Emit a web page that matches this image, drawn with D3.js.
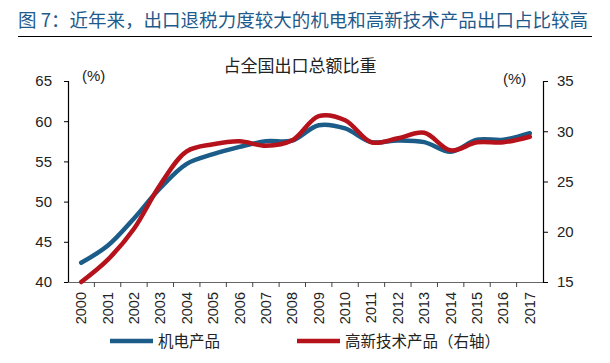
<!DOCTYPE html>
<html>
<head>
<meta charset="utf-8">
<script src="https://cdn.jsdelivr.net/npm/d3@7"></script>
<style>
  body { margin: 0; background: #fff; }
  svg { display: block; font-family: "Liberation Sans", Arial, sans-serif; }
  .cjk { font-family: "Noto Sans CJK SC", sans-serif; }
</style>
</head>
<body>
<svg id="chart" width="610" height="363"></svg>
<script>
// # DATA
// # ------------------------------
var years      = ["2000","2001","2002","2003","2004","2005","2006","2007","2008",
                  "2009","2010","2011","2012","2013","2014","2015","2016","2017"];
var jidian     = [42.4, 44.5, 47.9, 51.7, 54.7, 55.9, 56.8, 57.5, 57.6,
                  59.5, 59.1, 57.4, 57.6, 57.4, 56.2, 57.7, 57.7, 58.5];
var gaoxin     = [15.0, 17.2, 20.3, 24.7, 28.0, 28.7, 29.0, 28.55, 29.1,
                  31.5, 31.1, 28.9, 29.3, 29.85, 28.1, 28.9, 28.9, 29.45];
var leftTicks  = [40, 45, 50, 55, 60, 65];
var rightTicks = [15, 20, 25, 30, 35];
var seriesName = ["机电产品", "高新技术产品（右轴）"];

var blue = "#1b5c88",
    red  = "#b5121b";

// # SETUP
// # ------------------------------
var svg = d3.select("#chart");
var m = { left: 68, right: 543, top: 81, bottom: 282 };

var x  = d3.scaleBand().domain(years).range([m.left, m.right]);
var yL = d3.scaleLinear().domain([40, 65]).range([m.bottom, m.top]);
var yR = d3.scaleLinear().domain([15, 35]).range([m.bottom, m.top]);

// ## title
svg.append("text")
   .attr("class", "cjk")
   .attr("x", 18).attr("y", 27)
   .attr("textLength", 570)
   .style("font-size", "18.5px")
   .style("fill", "#1f5a8c")
   .text("图 7：近年来，出口退税力度较大的机电和高新技术产品出口占比较高");

svg.append("line")
   .attr("x1", 18).attr("x2", 592)
   .attr("y1", 36.5).attr("y2", 36.5)
   .style("stroke", "#000").style("stroke-width", 1.2);

svg.append("text")
   .attr("class", "cjk")
   .attr("x", 300).attr("y", 72)
   .attr("text-anchor", "middle")
   .style("font-size", "17px")
   .style("fill", "#222")
   .text("占全国出口总额比重");

// ## axes
var axisL = svg.append("g")
   .attr("transform", "translate(" + m.left + ",0)")
   .call(d3.axisLeft(yL).tickValues(leftTicks).tickSize(4).tickPadding(12));

var axisR = svg.append("g")
   .attr("transform", "translate(" + m.right + ",0)")
   .call(d3.axisRight(yR).tickValues(rightTicks).tickSize(5).tickPadding(9));

[axisL, axisR].forEach(function(a) {
  a.select(".domain").style("stroke", "#000").style("stroke-width", 1.2);
  a.selectAll(".tick line").style("stroke", "#000");
  a.selectAll(".tick text")
   .style("font-size", "15px")
   .style("font-family", "'Liberation Sans', Arial, sans-serif")
   .style("fill", "#222");
});

// ## x axis: ticks between categories
var xAxis = svg.append("g");
xAxis.append("line")
   .attr("x1", m.left).attr("x2", m.right)
   .attr("y1", m.bottom + 0.5).attr("y2", m.bottom + 0.5)
   .style("stroke", "#666").style("stroke-width", 1.2);

xAxis.selectAll(".xtick")
   .data(years.slice(1))
   .enter().append("line")
   .attr("x1", function(d) { return x(d); })
   .attr("x2", function(d) { return x(d); })
   .attr("y1", m.bottom).attr("y2", m.bottom + 5)
   .style("stroke", "#444");

xAxis.selectAll(".xlabel")
   .data(years)
   .enter().append("text")
   .attr("transform", function(d) {
     return "translate(" + (x(d) + x.bandwidth() / 2 + 5) + "," + (m.bottom + 10) + ") rotate(-90)";
   })
   .attr("text-anchor", "end")
   .style("font-size", "14.5px")
   .style("fill", "#222")
   .text(function(d) { return d; });

// ## unit labels
svg.append("text").attr("x", 82).attr("y", 81)
   .style("font-size", "15px").style("fill", "#222").text("(%)");
svg.append("text").attr("x", 503).attr("y", 84)
   .style("font-size", "15px").style("fill", "#222").text("(%)");

// ## lines
var cx = function(d, i) { return x(years[i]) + x.bandwidth() / 2; };

var lineL = d3.line().x(cx).y(function(d) { return yL(d); }).curve(d3.curveCatmullRom.alpha(0.5));
var lineR = d3.line().x(cx).y(function(d) { return yR(d); }).curve(d3.curveCatmullRom.alpha(0.5));

svg.append("path").datum(jidian)
   .attr("d", lineL)
   .style("fill", "none").style("stroke", blue)
   .style("stroke-width", 4.5).style("stroke-linecap", "round");

svg.append("path").datum(gaoxin)
   .attr("d", lineR)
   .style("fill", "none").style("stroke", red)
   .style("stroke-width", 4.5).style("stroke-linecap", "round");

// ## legend
var legend = [
  { name: seriesName[0], color: blue, x: 110 },
  { name: seriesName[1], color: red,  x: 297 }
];
var lg = svg.selectAll(".legend").data(legend).enter().append("g");
lg.append("line")
  .attr("x1", function(d) { return d.x; })
  .attr("x2", function(d) { return d.x + 43; })
  .attr("y1", 341).attr("y2", 341)
  .style("stroke", function(d) { return d.color; })
  .style("stroke-width", 4.5);
lg.append("text")
  .attr("class", "cjk")
  .attr("x", function(d) { return d.x + 48; })
  .attr("y", 347)
  .style("font-size", "15.5px")
  .style("fill", "#222")
  .text(function(d) { return d.name; });
</script>
</body>
</html>
